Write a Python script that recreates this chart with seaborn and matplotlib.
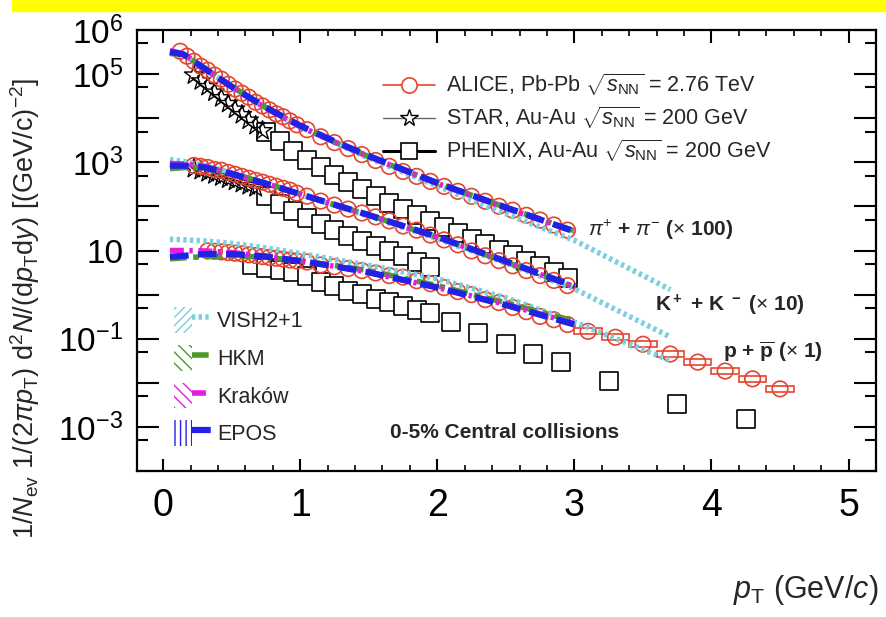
import numpy as np
import pandas as pd
import matplotlib
matplotlib.use("Agg")
import matplotlib.pyplot as plt
import seaborn as sns
from matplotlib.lines import Line2D
from matplotlib.patches import Patch, Rectangle
from matplotlib.legend_handler import HandlerTuple
from matplotlib.ticker import FixedLocator, FuncFormatter, MultipleLocator, NullFormatter

# --- ALICE Pb-Pb 2.76 TeV, 0-5% (pi x100, K x10, p x1)
alice_pi_pt = [0.125, 0.175, 0.225, 0.275, 0.325, 0.375, 0.425, 0.475, 0.525, 0.575, 0.625, 0.675,
               0.725, 0.775, 0.825, 0.875, 0.925, 0.975, 1.05, 1.15, 1.25, 1.35, 1.45, 1.55, 1.65,
               1.75, 1.85, 1.95, 2.05, 2.15, 2.25, 2.35, 2.45, 2.55, 2.65, 2.75, 2.85, 2.95]
alice_pi_y = [3.3e5, 2.55e5, 1.96e5, 1.51e5, 1.23e5, 9.5e4, 7.7e4, 5.9e4, 4.6e4, 3.7e4, 3.0e4, 2.3e4,
              1.9e4, 1.55e4, 1.26e4, 1.08e4, 8.7e3, 7.1e3, 5.5e3, 3.8e3, 2.8e3, 2.05e3, 1.5e3, 1.1e3, 810,
              620, 480, 370, 285, 220, 170, 131, 101, 82, 63, 49, 38, 29]

alice_k_pt = [0.225, 0.275, 0.325, 0.375, 0.425, 0.475, 0.525, 0.575, 0.625, 0.675, 0.725, 0.775,
              0.825, 0.875, 0.925, 0.975, 1.05, 1.15, 1.25, 1.35, 1.45, 1.55, 1.65, 1.75, 1.85, 1.95,
              2.05, 2.15, 2.25, 2.35, 2.45, 2.55, 2.65, 2.75, 2.85, 2.95]
alice_k_y = [850, 810, 765, 690, 660, 590, 535, 480, 435, 390, 355, 318, 287, 258, 234, 200,
             171, 132, 107, 87, 71, 58, 47, 36, 29, 22.4, 17.4, 13.5, 9.8, 7.6, 5.9, 4.5, 3.5, 2.7, 2.1, 1.6]

alice_p_pt = [0.325, 0.375, 0.425, 0.475, 0.525, 0.575, 0.625, 0.675, 0.725, 0.775, 0.825, 0.875,
              0.925, 0.975, 1.05, 1.15, 1.25, 1.35, 1.45, 1.55, 1.65, 1.75, 1.85, 1.95, 2.05, 2.15,
              2.25, 2.35, 2.45, 2.55, 2.65, 2.75, 2.85, 2.95, 3.1, 3.3, 3.5, 3.7, 3.9, 4.1, 4.3, 4.5]
alice_p_y = [9.8, 9.6, 9.3, 9.0, 8.7, 8.4, 8.0, 7.7, 7.3, 7.0, 6.7, 6.4, 6.1, 5.8,
             5.5, 4.7, 4.3, 3.9, 3.5, 3.1, 2.7, 2.5, 2.07, 1.77, 1.44, 1.17, 1.0, 0.77, 0.66, 0.51,
             0.41, 0.32, 0.27, 0.21, 0.147, 0.108, 0.075, 0.045, 0.0295, 0.0185, 0.0123, 0.0073]

# --- STAR Au-Au 200 GeV
star_pi_pt = [0.225, 0.275, 0.325, 0.375, 0.425, 0.475, 0.525, 0.575, 0.625, 0.675, 0.725]
star_pi_y = [9.5e4, 7.0e4, 5.2e4, 3.9e4, 2.9e4, 2.15e4, 1.6e4, 1.2e4, 9.0e3, 6.8e3, 5.2e3]
star_k_pt = [0.225, 0.275, 0.325, 0.375, 0.425, 0.475, 0.525, 0.575, 0.625, 0.675]
star_k_y = [720, 650, 580, 520, 465, 415, 370, 330, 295, 265]

# --- PHENIX Au-Au 200 GeV
phenix_pi_pt = [0.75, 0.85, 0.95, 1.05, 1.15, 1.25, 1.35, 1.45, 1.55, 1.65, 1.75, 1.85,
                1.95, 2.05, 2.15, 2.25, 2.35, 2.45, 2.55, 2.65, 2.75, 2.85, 2.95]
phenix_pi_y = [4800, 3000, 1850, 1156, 764, 505, 351, 244, 170, 118, 86.5, 63.4,
               46.5, 34.0, 24.9, 18.2, 14.1, 10.3, 7.96, 5.83, 4.50, 3.30, 2.42]
phenix_k_pt = [0.75, 0.85, 0.95, 1.05, 1.15, 1.25, 1.35, 1.45, 1.55, 1.65, 1.75, 1.85, 1.95]
phenix_k_y = [170, 112, 78, 54, 40, 29, 21, 16.5, 12.7, 9.8, 7.6, 5.5, 4.3]
phenix_p_pt = [0.65, 0.75, 0.85, 0.95, 1.05, 1.15, 1.25, 1.35, 1.45, 1.55, 1.65, 1.75, 1.85, 1.95,
               2.1, 2.3, 2.5, 2.7, 2.9, 3.25, 3.75, 4.25]
phenix_p_y = [4.7, 4.07, 3.66, 3.2, 2.6, 1.97, 1.6, 1.23, 1.05, 0.81, 0.69, 0.56, 0.45, 0.38,
              0.245, 0.138, 0.074, 0.044, 0.029, 0.011, 0.0033, 0.0015]

# --- model curves
model_pt = [0.05, 0.15, 0.3, 0.5, 0.75, 1.0, 1.25, 1.5, 2.0, 2.5, 3.0]
vish_pt = [0.05, 0.15, 0.3, 0.5, 0.75, 1.0, 1.25, 1.5, 2.0, 2.5, 3.0, 3.7]
vish_pi = [2.9e5, 2.7e5, 1.35e5, 5.2e4, 1.7e4, 6.4e3, 2.8e3, 1.25e3, 290, 68, 17, 1.3]
vish_k = [1150, 1050, 850, 580, 340, 190, 105, 60, 18.5, 5.2, 1.35, 0.11]
vish_p = [18, 17.5, 16.5, 14.5, 11.5, 8.5, 6.3, 4.6, 2.3, 0.85, 0.24, 0.032]
hkm_pi = [3.0e5, 2.8e5, 1.4e5, 5.3e4, 1.75e4, 6.6e3, 2.9e3, 1.35e3, 340, 95, 28]
hkm_k = [720, 760, 760, 560, 335, 190, 110, 64, 20, 5.5, 1.5]
hkm_p = [6.5, 6.8, 7.3, 7.6, 7.0, 5.8, 4.6, 3.5, 1.6, 0.65, 0.25]
krakow_pi = [3.4e5, 2.9e5, 1.35e5, 5.1e4, 1.7e4, 6.5e3, 2.9e3, 1.35e3, 330, 92, 27]
krakow_k = [940, 920, 800, 560, 330, 190, 108, 63, 20, 5.6, 1.5]
krakow_p = [10, 10, 9.8, 9.0, 7.5, 5.8, 4.4, 3.2, 1.45, 0.6, 0.22]
epos_pi = [3.2e5, 2.8e5, 1.35e5, 5.2e4, 1.75e4, 6.8e3, 3.0e3, 1.4e3, 340, 95, 27]
epos_k = [840, 840, 770, 550, 330, 190, 110, 64, 20.5, 5.7, 1.55]
epos_p = [7.2, 7.6, 8.3, 8.3, 7.3, 5.8, 4.4, 3.2, 1.45, 0.58, 0.21]

red = "#e5442e"
model_style = {
    "VISH2+1": dict(color="#7ccfdc", ls=(0, (0.6, 0.6)), lw=4, hatch="////"),
    "HKM": dict(color="#4e9a2c", ls=(0, (3, 1.2, 1, 1.2)), lw=4, hatch="\\\\\\"),
    "Kraków": dict(color="#e21ee2", ls=(0, (2.5, 1, 0.6, 1)), lw=4, hatch="\\\\\\"),
    "EPOS": dict(color="#2222e6", ls=(0, (3, 1.5)), lw=4.5, hatch="|||"),
}

rows = []
for name, pts, curves in [("VISH2+1", vish_pt, [vish_pi, vish_k, vish_p]),
                          ("HKM", model_pt, [hkm_pi, hkm_k, hkm_p]),
                          ("Kraków", model_pt, [krakow_pi, krakow_k, krakow_p]),
                          ("EPOS", model_pt, [epos_pi, epos_k, epos_p])]:
    for sp, vals in zip(["pi", "K", "p"], curves):
        for x, y in zip(pts, vals):
            rows.append((name, sp, x, y))
models = pd.DataFrame(rows, columns=["model", "species", "pt", "y"])

sns.set_style("ticks")
plt.rcParams["font.family"] = ["Liberation Sans", "DejaVu Sans"]
plt.rcParams["mathtext.fontset"] = "custom"
plt.rcParams["mathtext.rm"] = "Liberation Sans"
plt.rcParams["mathtext.it"] = "Liberation Sans:italic"
plt.rcParams["mathtext.bf"] = "Liberation Sans:bold"
plt.rcParams["hatch.linewidth"] = 1.0

fig = plt.figure(figsize=(8.87, 6.17), dpi=100)
fig.patches.append(Rectangle((12 / 887, 1 - 11 / 617), 1, 11 / 617, transform=fig.transFigure,
                             color="#ffff00", zorder=0))
ax = fig.add_axes([0.1545, 0.2366, 0.8331, 0.7147])

# data
for pt, y in [(phenix_pi_pt, phenix_pi_y), (phenix_k_pt, phenix_k_y), (phenix_p_pt, phenix_p_y)]:
    sns.scatterplot(x=pt, y=y, marker="s", s=150, facecolor="white", edgecolor="black",
                    linewidth=1.2, ax=ax, zorder=2)
for pt, y in [(star_pi_pt, star_pi_y), (star_k_pt, star_k_y)]:
    sns.scatterplot(x=pt, y=y, marker="*", s=210, facecolor="none", edgecolor="black",
                    linewidth=1.0, ax=ax, zorder=3)
for x, y in zip(alice_p_pt, alice_p_y):
    if x > 3:
        ax.add_patch(Rectangle((x - 0.1, y * 0.85), 0.2, y * 0.33, fc="none", ec=red, lw=1.2, zorder=3))
for pt, y in [(alice_pi_pt, alice_pi_y), (alice_k_pt, alice_k_y), (alice_p_pt, alice_p_y)]:
    sns.scatterplot(x=pt, y=y, marker="o", s=125, facecolor="none", edgecolor=red,
                    linewidth=1.2, ax=ax, zorder=3)

# models
for (name, sp), d in models.groupby(["model", "species"], sort=False):
    st = model_style[name]
    sns.lineplot(data=d, x="pt", y="y", sort=False, estimator=None, color=st["color"],
                 linestyle=st["ls"], lw=st["lw"], ax=ax, zorder=4)

ax.set_yscale("log")
ax.set_xlim(-0.19, 5.2)
ax.set_ylim(1e-4, 1e6)
ax.set_xlabel("")
ax.set_ylabel("")

ylabels = {6: "$10^{6}$", 5: "$10^{5}$", 3: "$10^{3}$", 1: "10", -1: "$10^{-1}$", -3: "$10^{-3}$"}
ax.yaxis.set_major_locator(FixedLocator([10.0 ** k for k in range(-4, 7)]))
ax.yaxis.set_major_formatter(FuncFormatter(lambda v, p: ylabels.get(int(round(np.log10(v))), "")))
ax.yaxis.set_minor_locator(FixedLocator([5 * 10.0 ** k for k in range(-5, 6)]))
ax.yaxis.set_minor_formatter(NullFormatter())
ax.xaxis.set_major_locator(MultipleLocator(1))
ax.xaxis.set_minor_locator(MultipleLocator(0.2))

ax.tick_params(which="both", direction="in", top=True, right=True, colors="black")
ax.tick_params(axis="y", which="major", length=16, width=1.5, labelsize=24, pad=10)
ax.tick_params(axis="y", which="minor", length=8, width=1.5)
ax.tick_params(axis="x", which="major", length=9, width=1.5, labelsize=27, pad=12)
ax.tick_params(axis="x", which="minor", length=4, width=1.2)
for s in ax.spines.values():
    s.set_linewidth(1.6)
    s.set_color("black")

# legends
h_data = [
    Line2D([], [], color=red, lw=1.2, marker="o", mfc="white", mec=red, ms=11, mew=1.2),
    Line2D([], [], color="#666666", lw=1.0, marker="*", mfc="white", mec="black", ms=13, mew=1.0),
    Line2D([], [], color="black", lw=2.2, marker="s", mfc="white", mec="black", ms=11, mew=1.2),
]
l_data = [r"ALICE, Pb-Pb $\sqrt{s_{\rm NN}}$ = 2.76 TeV",
          r"STAR, Au-Au $\sqrt{s_{\rm NN}}$ = 200 GeV",
          r"PHENIX, Au-Au $\sqrt{s_{\rm NN}}$ = 200 GeV"]
leg1 = ax.legend(h_data, l_data, loc="upper left", bbox_to_anchor=(0.333, 0.905), frameon=False,
                 fontsize=15.5, handlelength=2.4, labelspacing=0.3, handletextpad=0.5,
                 borderaxespad=0, borderpad=0)
ax.add_artist(leg1)

h_mod = []
for name, st in model_style.items():
    h_mod.append((Patch(fc="none", ec=st["color"], hatch=st["hatch"], lw=0),
                  Line2D([], [], color=st["color"], ls=st["ls"], lw=st["lw"])))
ax.legend(h_mod, list(model_style.keys()), handler_map={tuple: HandlerTuple(ndivide=None)},
          loc="upper left", bbox_to_anchor=(0.05, 0.371), frameon=False, fontsize=15.5,
          handlelength=1.7, handleheight=1.45, labelspacing=0.56, handletextpad=0.3,
          borderaxespad=0, borderpad=0)

bold = dict(fontsize=15, fontweight="bold", transform=ax.transAxes, va="center", ha="left")
ax.text(0.610, 0.5465, r"$\pi^{+}$ + $\pi^{-}$ ($\times$ 100)", **bold)
ax.text(0.701, 0.376, r"K$^{\bf +}$ + K $^{\bf -}$ ($\times$ 10)", **bold)
ax.text(0.793, 0.270, r"p + $\overline{\bf p}$ ($\times$ 1)", **bold)
ax.text(0.342, 0.088, "0-5% Central collisions", **bold)

fig.text(0.028, 0.50,
         r"$1/N_{\rm ev}\ 1/(2\pi p_{\rm T})\ {\rm d}^{2}N/({\rm d}p_{\rm T}{\rm d}y)\ [({\rm GeV}/{\rm c})^{-2}]$",
         rotation=90, fontsize=19.5, ha="center", va="center")
fig.text(0.99, 0.043, r"$p_{\rm T}$ (GeV/$c$)", fontsize=22, ha="right", va="center")

fig.savefig("out.png", dpi=100)
